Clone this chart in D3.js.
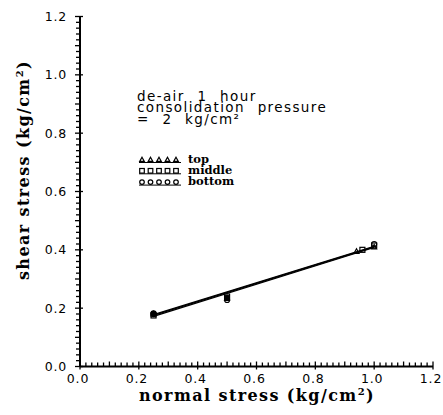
<!doctype html>
<html lang="en">
<head>
<meta charset="utf-8">
<title>shear stress vs normal stress</title>
<style>
  body { margin: 0; background: #fff; }
  .tick-label { font-family: "DejaVu Sans", sans-serif; font-size: 12.5px; letter-spacing: 0.8px; fill: #000; }
  .title { font-family: "DejaVu Serif", serif; font-weight: bold; font-size: 16px; letter-spacing: 1.4px; fill: #000; }
  .note { font-family: "DejaVu Sans", sans-serif; font-size: 13.5px; letter-spacing: 1.4px; word-spacing: 7px; fill: #000; }
  .leg { font-family: "DejaVu Serif", serif; font-weight: bold; font-size: 11.5px; fill: #000; }
</style>
</head>
<body>
<div id="chart"></div>
<script src="https://cdn.jsdelivr.net/npm/d3@7"></script>
<script>
// data (normal stress, shear stress in kg/cm2)
var topSeries = [[0.25, 0.18], [0.5, 0.235], [0.94, 0.395], [1.0, 0.41]];
var middleSeries = [[0.25, 0.175], [0.5, 0.24], [0.96, 0.4], [1.0, 0.415]];
var bottomSeries = [[0.25, 0.182], [0.5, 0.228], [1.0, 0.42]];
// fitted lines: [start, end]
var topFit = [[0.25, 0.172], [1.0, 0.408]];
var middleFit = [[0.25, 0.178], [1.0, 0.412]];
var bottomFit = [[0.25, 0.175], [1.0, 0.41]];
var xTicks = [0, 0.2, 0.4, 0.6, 0.8, 1.0, 1.2];
var yTicks = [0, 0.2, 0.4, 0.6, 0.8, 1.0, 1.2];
var notes = ["de-air 1 hour", "consolidation pressure", "= 2 kg/cm²"];
var legendNames = ["top", "middle", "bottom"];

var width = 443, height = 415;
var svg = d3.select("#chart").append("svg")
  .attr("width", width)
  .attr("height", height);

var x = d3.scaleLinear().domain([0, 1.2]).range([80, 433]);
var y = d3.scaleLinear().domain([0, 1.2]).range([366.5, 16.5]);

var minor = d3.range(0, 1.2001, 0.02);

// axis lines
svg.append("line")
  .attr("x1", x(0)).attr("x2", x(1.2))
  .attr("y1", y(0)).attr("y2", y(0))
  .attr("stroke", "#000").attr("stroke-width", 2);
svg.append("line")
  .attr("x1", x(0)).attr("x2", x(0))
  .attr("y1", y(0)).attr("y2", y(1.2))
  .attr("stroke", "#000").attr("stroke-width", 2);

// x minor / major ticks (pointing up)
svg.selectAll(".xt").data(minor).enter().append("line")
  .attr("x1", function(d) { return x(d); })
  .attr("x2", function(d) { return x(d); })
  .attr("y1", function(d, i) { return y(0) + (i % 10 == 0 ? 3 : 0); })
  .attr("y2", function(d, i) { return y(0) - (i % 5 == 0 ? 5 : 4); })
  .attr("stroke", "#000").attr("stroke-width", 1.3);

// y minor / major ticks (pointing left)
svg.selectAll(".yt").data(minor).enter().append("line")
  .attr("y1", function(d) { return y(d); })
  .attr("y2", function(d) { return y(d); })
  .attr("x1", function(d, i) { return x(0) - (i % 5 == 0 ? 5 : 4); })
  .attr("x2", function(d, i) { return x(0) + (i % 10 == 0 ? 3 : 0); })
  .attr("stroke", "#000").attr("stroke-width", 1.3);

// tick labels
svg.selectAll(".xl").data(xTicks).enter().append("text")
  .attr("class", "tick-label")
  .attr("x", function(d) { return x(d) - 2; })
  .attr("y", 383)
  .attr("text-anchor", "middle")
  .text(function(d) { return d.toFixed(1); });

svg.selectAll(".yl").data(yTicks).enter().append("text")
  .attr("class", "tick-label")
  .attr("x", 67)
  .attr("y", function(d) { return y(d) + 4.5; })
  .attr("text-anchor", "end")
  .text(function(d) { return d.toFixed(1); });

// axis titles
var xt = svg.append("text")
  .attr("class", "title")
  .attr("x", 257).attr("y", 401)
  .attr("text-anchor", "middle");
xt.append("tspan").text("normal stress (kg/cm");
xt.append("tspan").attr("dy", -6).attr("font-size", 10).text("2");
xt.append("tspan").attr("dy", 6).text(")");

var yt = svg.append("text")
  .attr("class", "title")
  .attr("transform", "translate(29,170) rotate(-90)")
  .attr("text-anchor", "middle");
yt.append("tspan").text("shear stress (kg/cm");
yt.append("tspan").attr("dy", -6).attr("font-size", 10).text("2");
yt.append("tspan").attr("dy", 6).text(")");

// annotation
svg.selectAll(".note").data(notes).enter().append("text")
  .attr("class", "note")
  .attr("x", 137)
  .attr("y", function(d, i) { return 100.5 + i * 11.5; })
  .text(function(d) { return d; });

// markers
function marker(g, kind, cx, cy, r) {
  if (kind == "tri") {
    g.append("path")
      .attr("d", "M" + cx + "," + (cy - r) + "L" + (cx + r) + "," + (cy + r * 0.8) + "L" + (cx - r) + "," + (cy + r * 0.8) + "Z")
      .attr("fill", "none").attr("stroke", "#000").attr("stroke-width", 1.2);
  } else if (kind == "sq") {
    g.append("rect")
      .attr("x", cx - r).attr("y", cy - r).attr("width", 2 * r).attr("height", 2 * r)
      .attr("fill", "none").attr("stroke", "#000").attr("stroke-width", 1.2);
  } else {
    g.append("circle")
      .attr("cx", cx).attr("cy", cy).attr("r", r)
      .attr("fill", "none").attr("stroke", "#000").attr("stroke-width", 1.2);
  }
}

var line = d3.line()
  .x(function(d) { return x(d[0]); })
  .y(function(d) { return y(d[1]); });

[topFit, middleFit, bottomFit].forEach(function(f) {
  svg.append("path").attr("d", line(f))
    .attr("fill", "none").attr("stroke", "#000").attr("stroke-width", 1.3);
});

var plot = svg.append("g");
[[topSeries, "tri"], [middleSeries, "sq"], [bottomSeries, "circ"]].forEach(function(s) {
  s[0].forEach(function(d) {
    marker(plot, s[1], x(d[0]), y(d[1]), 2.5);
  });
});

// filled blobs where markers overlap
plot.append("circle").attr("cx", x(0.25)).attr("cy", y(0.18)).attr("r", 3.2).attr("fill", "#000");
plot.append("rect").attr("x", x(0.5) - 2.5).attr("y", y(0.245)).attr("width", 5).attr("height", 6).attr("fill", "#000");

// legend
var kinds = ["tri", "sq", "circ"];
legendNames.forEach(function(name, i) {
  var by = 162.5 + i * 11.3;
  var g = svg.append("g");
  for (var k = 0; k < 5; k++) {
    marker(g, kinds[i], 142 + k * 8.5, by - 3, 2.3);
  }
  g.append("line")
    .attr("x1", 139).attr("x2", 181)
    .attr("y1", by).attr("y2", by)
    .attr("stroke", "#000").attr("stroke-width", 1);
  svg.append("text")
    .attr("class", "leg")
    .attr("x", 188).attr("y", by)
    .text(name);
});
</script>
</body>
</html>
